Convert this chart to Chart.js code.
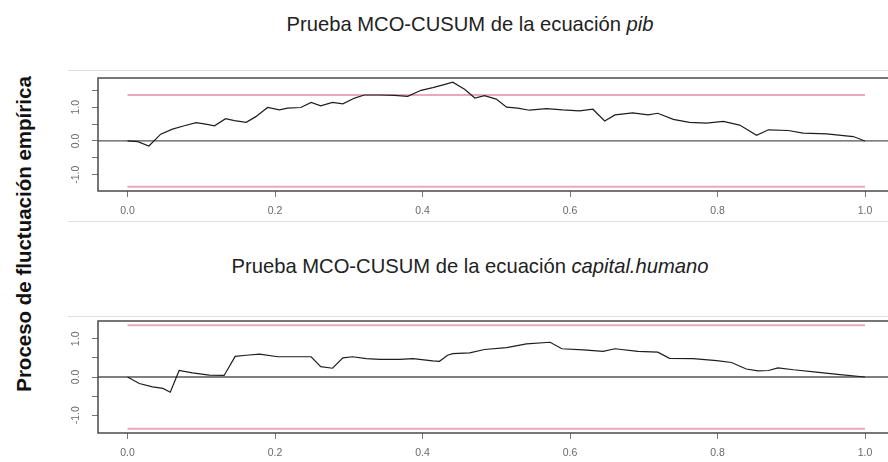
<!DOCTYPE html>
<html lang="es">
<head>
<meta charset="UTF-8">
<title>Prueba MCO-CUSUM</title>
<style>
    html, body {
        margin: 0;
        padding: 0;
        width: 888px;
        height: 462px;
        overflow: hidden;
        background: #fff;
    }
    body {
        position: relative;
        font-family: 'Liberation Sans', Arial, sans-serif;
    }
    .marco {
        position: absolute;
        left: 68px;
        width: 830px;
        height: 0;
        border-top: 1px solid #e0e0e0;
    }
    .titulo {
        position: absolute;
        left: 0;
        width: 940px;
        text-align: center;
        font-size: 20.2px;
        line-height: 20.2px;
        color: #222;
        white-space: nowrap;
    }
    .eje-y {
        position: absolute;
        left: 24px;
        top: 234px;
        transform: translate(-50%, -50%) rotate(-90deg);
        font-size: 20.5px;
        font-weight: bold;
        color: #111;
        white-space: nowrap;
    }
    canvas {
        position: absolute;
        left: 0;
    }
</style>
</head>
<body>

<div class="marco" style="top:70px"></div>
<div class="marco" style="top:221px"></div>
<div class="marco" style="top:316px"></div>

<div class="titulo" style="top:14px">Prueba MCO-CUSUM de la ecuación <i>pib</i></div>
<div class="titulo" style="top:256px">Prueba MCO-CUSUM de la ecuación <i>capital.humano</i></div>
<div class="eje-y">Proceso de fluctuación empírica</div>

<canvas id="panelPib" width="900" height="171" style="top:50px"></canvas>
<canvas id="panelCapital" width="900" height="167" style="top:296px"></canvas>

<script src="https://cdn.jsdelivr.net/npm/chart.js"></script>
<script>
    // proceso empírico, ecuación pib (tiempo relativo y valor)
    const pibT = [0, 0.014, 0.029, 0.045, 0.061, 0.077, 0.093, 0.106, 0.118, 0.133,
        0.145, 0.161, 0.174, 0.19, 0.206, 0.217, 0.235, 0.249, 0.262, 0.278,
        0.292, 0.308, 0.321, 0.342, 0.362, 0.38, 0.398, 0.414, 0.428, 0.441,
        0.457, 0.471, 0.484, 0.5, 0.514, 0.529, 0.545, 0.568, 0.59, 0.613,
        0.631, 0.647, 0.661, 0.685, 0.706, 0.719, 0.74, 0.762, 0.785, 0.808,
        0.83, 0.853, 0.869, 0.896, 0.916, 0.948, 0.984, 1.0];
    const pibV = [0, -0.02, -0.15, 0.2, 0.35, 0.45, 0.54, 0.5, 0.45, 0.66,
        0.6, 0.55, 0.72, 0.99, 0.92, 0.97, 0.99, 1.14, 1.04, 1.14,
        1.1, 1.27, 1.36, 1.36, 1.35, 1.32, 1.5, 1.58, 1.66, 1.74,
        1.53, 1.27, 1.34, 1.24, 1.0, 0.97, 0.91, 0.96, 0.92, 0.89,
        0.94, 0.59, 0.77, 0.83, 0.77, 0.82, 0.64, 0.55, 0.53, 0.58,
        0.47, 0.17, 0.33, 0.31, 0.23, 0.21, 0.13, 0.0];

    // proceso empírico, ecuación capital.humano
    const capT = [0, 0.016, 0.034, 0.048, 0.058, 0.07, 0.088, 0.111, 0.131, 0.146,
        0.161, 0.179, 0.204, 0.224, 0.249, 0.262, 0.278, 0.292, 0.305, 0.324,
        0.342, 0.369, 0.387, 0.414, 0.423, 0.434, 0.441, 0.464, 0.484, 0.514,
        0.541, 0.573, 0.589, 0.618, 0.645, 0.661, 0.692, 0.719, 0.735, 0.767,
        0.799, 0.819, 0.839, 0.855, 0.869, 0.882, 0.903, 0.934, 0.966, 1.0];
    const capV = [0, -0.17, -0.26, -0.3, -0.4, 0.17, 0.11, 0.05, 0.04, 0.54,
        0.57, 0.6, 0.53, 0.53, 0.53, 0.27, 0.23, 0.5, 0.53, 0.48,
        0.46, 0.46, 0.48, 0.42, 0.41, 0.57, 0.61, 0.63, 0.72, 0.77,
        0.87, 0.91, 0.74, 0.71, 0.67, 0.74, 0.67, 0.65, 0.49, 0.48,
        0.43, 0.38, 0.21, 0.16, 0.17, 0.24, 0.19, 0.13, 0.06, 0.0];

    // límites al 5% y ejes
    const limiteT = [0, 1];
    const limite = 1.358;
    const xTicks = [0, 0.2, 0.4, 0.6, 0.8, 1.0];
    const yTicksPib = [-1.0, -0.5, 0, 0.5, 1.0, 1.5];
    const yTicksCap = [-1.0, -0.5, 0, 0.5, 1.0];
    const yLabels = [-1.0, 0, 1.0];
    const xRango = [-0.04, 1.04];
    const yRangoPib = [-1.482, 1.864];
    const yRangoCap = [-1.467, 1.467];

    const fuente = "'Liberation Sans', Arial, sans-serif";

    // marco alrededor del área de dibujo, como en plot() de R
    const marcoPlugin = {
        id: 'marco',
        afterDatasetsDraw(chart) {
            const a = chart.chartArea;
            const ctx = chart.ctx;
            ctx.save();
            ctx.strokeStyle = '#4a4a4a';
            ctx.lineWidth = 1.5;
            ctx.strokeRect(a.left, a.top, a.right - a.left, a.bottom - a.top);
            ctx.restore();
        }
    };

    function puntos(t, v) {
        return t.map((x, i) => ({ x: x, y: v[i] }));
    }

    function constante(t, y) {
        return t.map(x => ({ x: x, y: y }));
    }

    function crearPanel(id, t, v, yRango, yTicks, padTop) {
        const ctx = document.getElementById(id).getContext('2d');
        return new Chart(ctx, {
            type: 'line',
            data: {
                datasets: [
                    {
                        data: puntos(t, v),
                        borderColor: '#1e1e1e',
                        borderWidth: 1.2
                    },
                    {
                        data: constante(limiteT, limite),
                        borderColor: '#e8aabb',
                        borderWidth: 2
                    },
                    {
                        data: constante(limiteT, -limite),
                        borderColor: '#e8aabb',
                        borderWidth: 2
                    },
                    {
                        data: constante(xRango, 0),
                        borderColor: '#555',
                        borderWidth: 1.3
                    }
                ]
            },
            options: {
                responsive: false,
                animation: false,
                events: [],
                layout: { padding: { top: padTop, right: 5.5, left: 0, bottom: 0 } },
                elements: {
                    point: { radius: 0 },
                    line: { tension: 0, fill: false }
                },
                plugins: {
                    legend: { display: false },
                    tooltip: { enabled: false }
                },
                scales: {
                    x: {
                        type: 'linear',
                        min: xRango[0],
                        max: xRango[1],
                        afterBuildTicks: s => { s.ticks = xTicks.map(x => ({ value: x })); },
                        afterFit: s => { s.height = 30; },
                        grid: { drawOnChartArea: false, tickLength: 6, color: '#777' },
                        border: { display: false },
                        ticks: {
                            padding: 8,
                            color: '#6a6a6a',
                            font: { family: fuente, size: 10.5 },
                            maxRotation: 0,
                            callback: value => value.toFixed(1)
                        }
                    },
                    y: {
                        type: 'linear',
                        min: yRango[0],
                        max: yRango[1],
                        afterBuildTicks: s => { s.ticks = yTicks.map(y => ({ value: y })); },
                        afterFit: s => { s.width = 98; },
                        grid: { drawOnChartArea: false, tickLength: 6, color: '#777' },
                        border: { display: false },
                        ticks: {
                            padding: 7,
                            color: '#6a6a6a',
                            crossAlign: 'center',
                            minRotation: 90,
                            maxRotation: 90,
                            font: { family: fuente, size: 10.5 },
                            callback: value => yLabels.includes(value) ? value.toFixed(1) : ''
                        }
                    }
                }
            },
            plugins: [marcoPlugin]
        });
    }

    crearPanel('panelPib', pibT, pibV, yRangoPib, yTicksPib, 28);
    crearPanel('panelCapital', capT, capV, yRangoCap, yTicksCap, 25);
</script>

</body>
</html>
